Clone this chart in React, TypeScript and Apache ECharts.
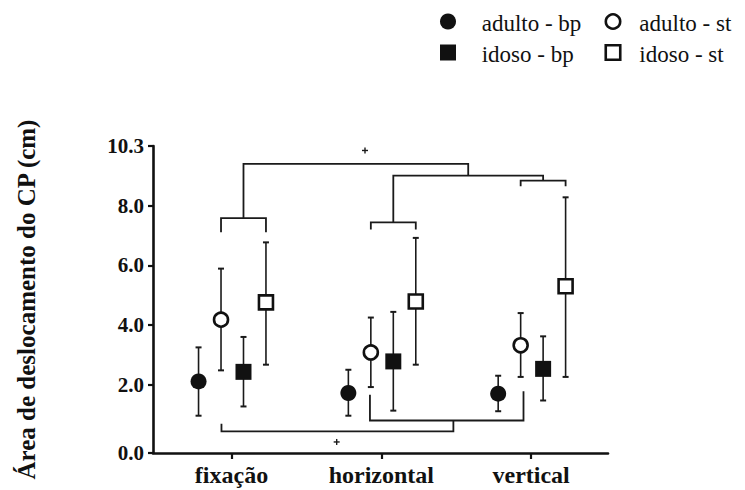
import React, { useEffect, useRef } from "react";
import * as echarts from "echarts";

// ---- data ----
const categories = ["fixação", "horizontal", "vertical"];
const seriesNames = ["adulto - bp", "adulto - st", "idoso - bp", "idoso - st"];
const groupOffsets = [-0.22, -0.07, 0.08, 0.23];

const adultoBpMean = [2.11, 1.72, 1.7];
const adultoBpLow = [0.96, 0.96, 1.11];
const adultoBpHigh = [3.25, 2.5, 2.3];

const adultoStMean = [4.18, 3.08, 3.32];
const adultoStLow = [2.48, 1.92, 2.26];
const adultoStHigh = [5.89, 4.25, 4.4];

const idosoBpMean = [2.43, 2.78, 2.53];
const idosoBpLow = [1.27, 1.13, 1.47];
const idosoBpHigh = [3.6, 4.44, 3.62];

const idosoStMean = [4.76, 4.79, 5.3];
const idosoStLow = [2.67, 2.67, 2.26];
const idosoStHigh = [6.77, 6.92, 8.28];

const yTickValues = [-0.29, 2, 4, 6, 8, 10.0];
const yTickLabels = ["0.0", "2.0", "4.0", "6.0", "8.0", "10.3"];
const xMin = -0.524;
const xMax = 2.513;

// significance brackets, in axis units [x, y]
const topBrackets: number[][][] = [
  [[-0.07, 7.11], [-0.07, 7.58], [0.23, 7.58], [0.23, 7.11]],
  [[0.08, 7.58], [0.08, 9.4], [1.58, 9.4], [1.58, 9.01]],
  [[0.93, 7.2], [0.93, 7.44], [1.23, 7.44], [1.23, 7.2]],
  [[1.08, 7.44], [1.08, 9.01], [2.08, 9.01], [2.08, 8.84]],
  [[1.93, 8.65], [1.93, 8.84], [2.23, 8.84], [2.23, 8.65]],
];
const bottomBrackets: number[][][] = [
  [[-0.067, 0.69], [-0.067, 0.435], [1.481, 0.435], [1.481, 0.8]],
  [[0.924, 1.665], [0.924, 0.8], [1.949, 0.8], [1.949, 1.776]],
];
const plusMarks: number[][] = [
  [0.891, 9.85],
  [0.702, 0.08],
];

const FONT = "Liberation Serif";
const INK = "#111";

const groups = [
  { mean: adultoBpMean, low: adultoBpLow, high: adultoBpHigh, symbol: "circle", open: false },
  { mean: adultoStMean, low: adultoStLow, high: adultoStHigh, symbol: "circle", open: true },
  { mean: idosoBpMean, low: idosoBpLow, high: idosoBpHigh, symbol: "rect", open: false },
  { mean: idosoStMean, low: idosoStLow, high: idosoStHigh, symbol: "rect", open: true },
];

function legendGraphic(): any[] {
  const col = [
    { icon: 448, text: 481.7 },
    { icon: 613, text: 639.3 },
  ];
  const row = [{ icon: 21.5, text: 23 }, { icon: 52.5, text: 54 }];
  const out: any[] = [];
  groups.forEach((g, gi) => {
    const c = col[gi % 2];
    const r = row[gi < 2 ? 0 : 1];
    if (g.symbol === "circle") {
      out.push({
        type: "circle",
        shape: { cx: c.icon, cy: r.icon, r: g.open ? 7.2 : 8 },
        style: g.open ? { fill: "#fff", stroke: INK, lineWidth: 2.6 } : { fill: INK },
      });
    } else {
      const s = g.open ? 14.5 : 16;
      out.push({
        type: "rect",
        shape: { x: c.icon - s / 2, y: r.icon - s / 2, width: s, height: s },
        style: g.open ? { fill: "#fff", stroke: INK, lineWidth: 2.6 } : { fill: INK },
      });
    }
    out.push({
      type: "text",
      x: c.text,
      y: r.text,
      style: {
        text: seriesNames[gi],
        fontFamily: FONT,
        fontSize: 23,
        fill: INK,
        align: "left",
        verticalAlign: "middle",
      },
    });
  });
  return out;
}

export default function App() {
  const ref = useRef<HTMLDivElement>(null);

  useEffect(() => {
    if (!ref.current) return;
    const chart = echarts.init(ref.current, undefined, { renderer: "svg" });

    const series: any[] = [];

    groups.forEach((g, gi) => {
      series.push({
        type: "custom",
        name: seriesNames[gi] + " err",
        silent: true,
        z: 2,
        encode: { x: 0, y: [1, 2] },
        data: g.mean.map((_, ci) => [ci + groupOffsets[gi], g.low[ci], g.high[ci]]),
        renderItem: (params: any, api: any) => {
          const x = api.value(0);
          const lo = api.coord([x, api.value(1)]);
          const hi = api.coord([x, api.value(2)]);
          const cw = 3;
          const st = { stroke: "#1a1a1a", lineWidth: 1.6 };
          const cap = { stroke: "#1a1a1a", lineWidth: 2 };
          return {
            type: "group",
            children: [
              { type: "line", shape: { x1: lo[0], y1: lo[1], x2: hi[0], y2: hi[1] }, style: st },
              { type: "line", shape: { x1: lo[0] - cw, y1: lo[1], x2: lo[0] + cw, y2: lo[1] }, style: cap },
              { type: "line", shape: { x1: hi[0] - cw, y1: hi[1], x2: hi[0] + cw, y2: hi[1] }, style: cap },
            ],
          };
        },
      });
    });

    groups.forEach((g, gi) => {
      series.push({
        type: "scatter",
        name: seriesNames[gi],
        z: 3,
        symbol: g.symbol,
        symbolSize: g.open ? 14 : 16,
        itemStyle: g.open
          ? { color: "#fff", borderColor: INK, borderWidth: 2.6, opacity: 1 }
          : { color: INK, opacity: 1 },
        data: g.mean.map((m, ci) => [ci + groupOffsets[gi], m]),
      });
    });

    series.push({
      type: "custom",
      name: "brackets",
      silent: true,
      z: 1,
      data: [[0, 5]],
      encode: { x: 0, y: 1 },
      renderItem: (params: any, api: any) => {
        const children: any[] = [];
        [...topBrackets, ...bottomBrackets].forEach((br) => {
          children.push({
            type: "polyline",
            shape: { points: br.map((p) => api.coord(p)) },
            style: { stroke: "#1a1a1a", lineWidth: 1.8, fill: null },
          });
        });
        plusMarks.forEach((p) => {
          const c = api.coord(p);
          const s = { stroke: "#1a1a1a", lineWidth: 1.4 };
          children.push({ type: "line", shape: { x1: c[0] - 3, y1: c[1], x2: c[0] + 3, y2: c[1] }, style: s });
          children.push({ type: "line", shape: { x1: c[0], y1: c[1] - 3, x2: c[0], y2: c[1] + 3 }, style: s });
        });
        return { type: "group", children };
      },
    });

    chart.setOption({
      animation: false,
      backgroundColor: "#fff",
      grid: { left: 153, right: 137, top: 146, bottom: 37, containLabel: false },
      graphic: legendGraphic(),
      xAxis: {
        type: "value",
        min: xMin,
        max: xMax,
        splitLine: { show: false },
        axisLine: { show: true, onZero: false, lineStyle: { color: INK, width: 2.6 } },
        axisTick: { show: true, customValues: [0, 1, 2], length: 6, lineStyle: { color: INK, width: 2.2 } },
        axisLabel: {
          customValues: [0, 1, 2],
          formatter: (v: number) => categories[Math.round(v)] ?? "",
          fontFamily: FONT,
          fontSize: 24,
          fontWeight: "bold",
          color: INK,
          margin: 10,
        },
      },
      yAxis: {
        type: "value",
        min: yTickValues[0],
        max: yTickValues[yTickValues.length - 1],
        name: "Área de deslocamento do CP (cm)",
        nameLocation: "middle",
        nameGap: 114,
        nameRotate: 90,
        nameTextStyle: {
          fontFamily: FONT,
          fontSize: 25,
          fontWeight: "bold",
          color: INK,
        },
        splitLine: { show: false },
        axisLine: { show: true, onZero: false, lineStyle: { color: INK, width: 2.6 } },
        axisTick: { show: true, customValues: yTickValues, length: 5, lineStyle: { color: INK, width: 2.2 } },
        axisLabel: {
          customValues: yTickValues,
          formatter: (v: number) => {
            let best = 0;
            yTickValues.forEach((t, i) => {
              if (Math.abs(t - v) < Math.abs(yTickValues[best] - v)) best = i;
            });
            return yTickLabels[best];
          },
          fontFamily: FONT,
          fontSize: 21,
          fontWeight: "bold",
          color: INK,
          margin: 9,
        },
      },
      series,
    });

    return () => chart.dispose();
  }, []);

  return (
    <div
      ref={ref}
      style={{ position: "fixed", left: 0, top: 0, width: 745, height: 490 }}
    />
  );
}
